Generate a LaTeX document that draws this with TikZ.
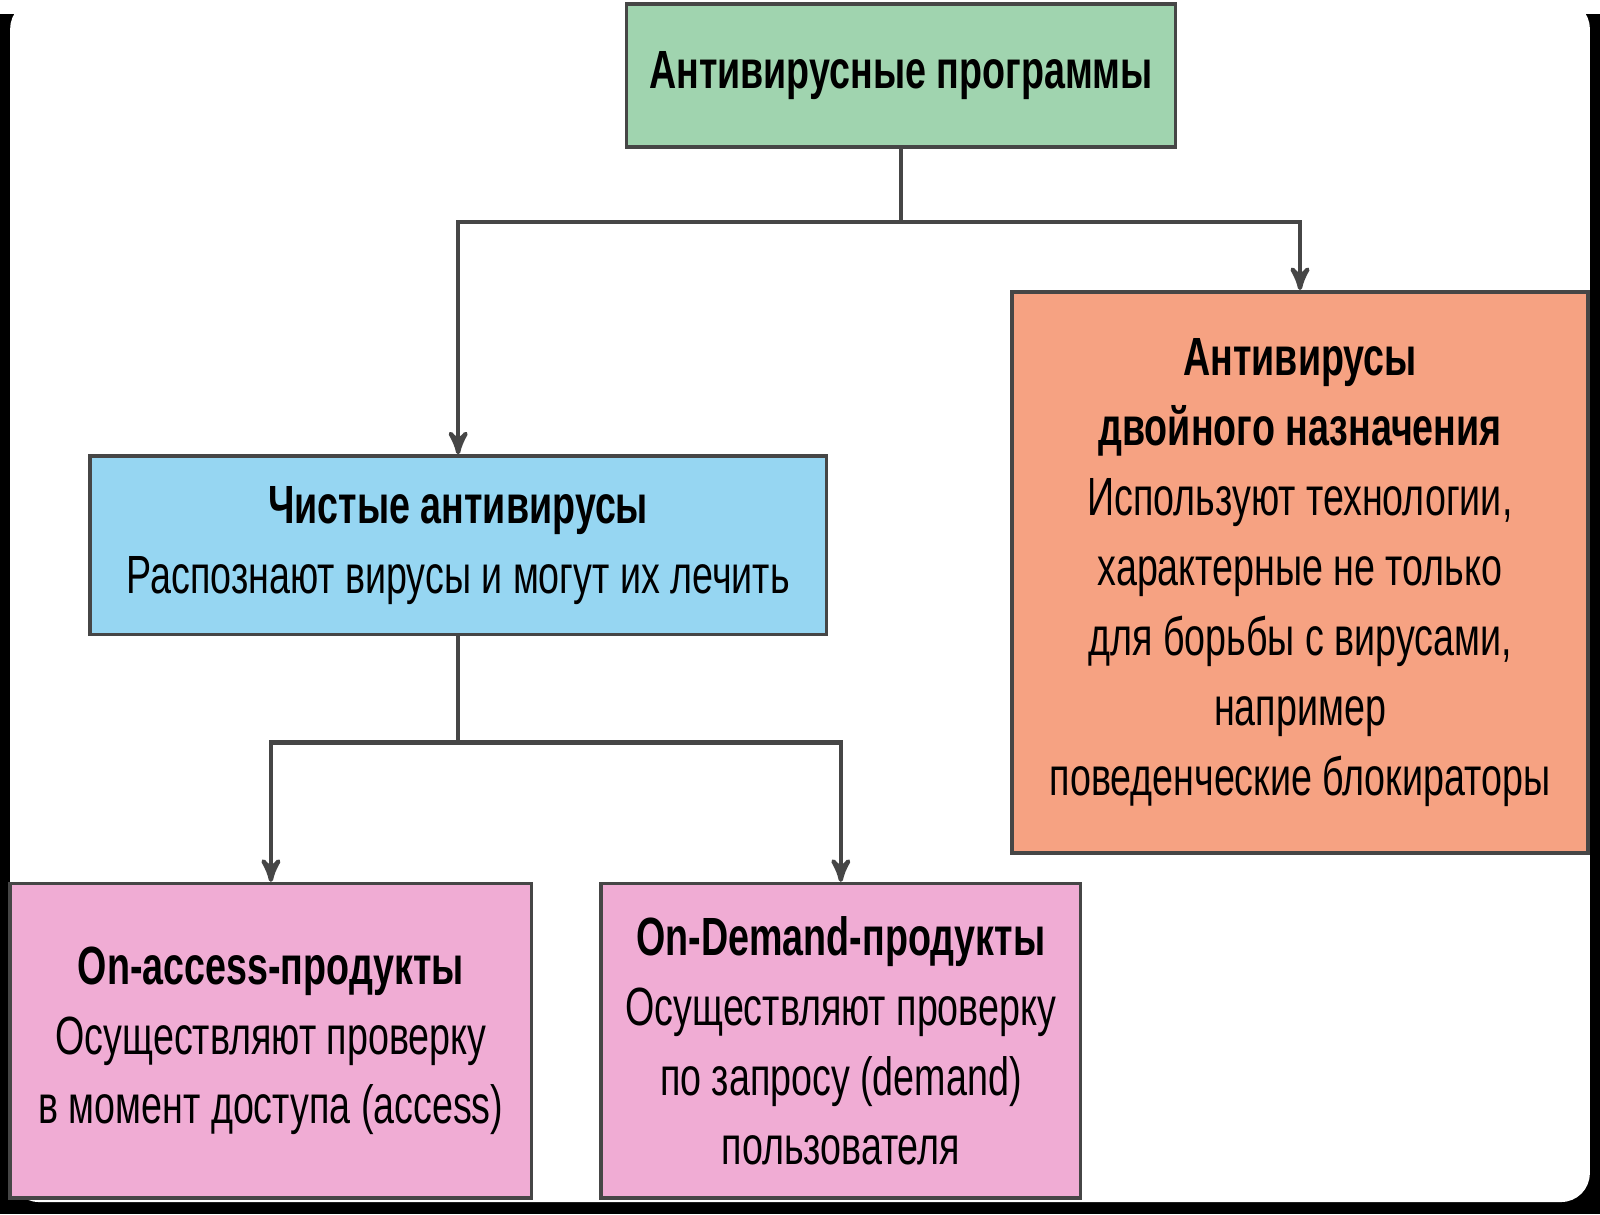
\documentclass[tikz,border=0pt]{standalone}
\usepackage{fontspec}
\setmainfont[FakeStretch=0.70]{Liberation Sans}
\usetikzlibrary{arrows,positioning,calc}
\definecolor{topgreen}{RGB}{160,212,175}
\definecolor{pureblue}{RGB}{150,214,242}
\definecolor{dualorange}{RGB}{246,162,130}
\definecolor{prodpink}{RGB}{240,172,212}
\definecolor{linegray}{RGB}{70,70,70}
\begin{document}
\begin{tikzpicture}[>=stealth',semithick,font=\fontsize{15}{19.5}\selectfont]
 \tikzset{
 	box node/.style={rectangle,draw=linegray,line width=1pt,align=center,inner sep=2pt},
 	link/.style={draw=linegray,line width=1.2pt}
 }
 \fill[black] (0,0) rectangle (15.68,11.76);
 \fill[white,rounded corners=8pt] (0.10,0.12) rectangle (15.58,11.90);
 \useasboundingbox (0,0) rectangle (15.68,11.76);

       \node[box node,fill=topgreen,minimum width=5.38cm,minimum height=1.40cm] (root) at (8.83,11.16) {\textbf{Антивирусные программы}};
       \node[box node,fill=pureblue,minimum width=7.22cm,minimum height=1.75cm] (pure) at (4.49,6.555) {\textbf{Чистые антивирусы}\\Распознают вирусы и могут их лечить};
       \node[box node,fill=dualorange,minimum width=5.64cm,minimum height=5.50cm] (dual) at (12.74,6.29) {\textbf{Антивирусы}\\\textbf{двойного назначения}\\Используют технологии,\\характерные не только\\для борьбы с вирусами,\\например\\поведенческие блокираторы};
       \node[box node,fill=prodpink,minimum width=5.11cm,minimum height=3.08cm] (access) at (2.655,1.70) {\textbf{On-access-продукты}\\Осуществляют проверку\\в момент доступа (access)};
       \node[box node,fill=prodpink,minimum width=4.70cm,minimum height=3.08cm] (demand) at (8.24,1.70) {\textbf{On-Demand-продукты}\\Осуществляют проверку\\по запросу (demand)\\пользователя};

     \coordinate (split) at ($(root.south)+(0,-0.72)$);
     \coordinate (branch) at ($(pure.south)+(0,-1.04)$);

     \path[link] (root.south) -- (split);
     \path[link,->] (split) -| (pure.north);
     \path[link,->] (split) -| (dual.north);
     \path[link] (pure.south) -- (branch);
     \path[link,->] (branch) -| (access.north);
     \path[link,->] (branch) -| (demand.north);
 \end{tikzpicture}
\end{document}
